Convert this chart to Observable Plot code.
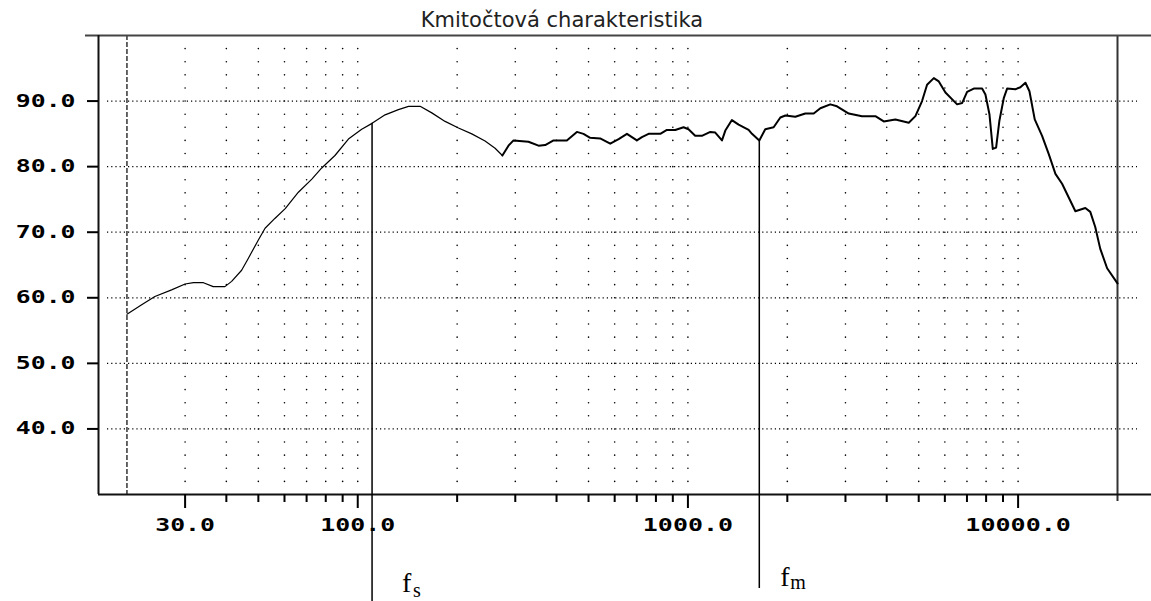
<!DOCTYPE html>
<html>
<head>
<meta charset="utf-8">
<script src="https://cdn.jsdelivr.net/npm/d3@7"></script>
<script src="https://cdn.jsdelivr.net/npm/@observablehq/plot@0.6"></script>
<style>
  html, body { margin: 0; padding: 0; background: #fff; }
</style>
</head>
<body>
<div id="chart"></div>
<script>
// Frequency response of the driver (Hz → dB)
const title = "Kmitočtová charakteristika";

const freq = [
  20, 22.1, 24.3, 27.3, 30, 31.8, 34.1, 36.5, 39.6, 41.5,
  44.5, 46.6, 50, 52.4, 56.1, 60.3, 66.1, 72.6, 77.8, 85.3,
  93.7, 102.8, 110.5, 121, 132.8, 142.5, 154.5, 167.6, 183.9, 201.9,
  221.5, 243, 260.6, 274.2, 286.1, 296.3, 328.9, 352.8, 369.6, 391.7,
  429.8, 461, 482.7, 505.8, 542.2, 581.7, 616.8, 653.6, 700.5, 725.5,
  760, 824.6, 863.6, 915.3, 970, 1004, 1052, 1102, 1169, 1210,
  1268, 1298, 1359, 1424, 1527, 1563, 1645, 1715, 1818, 1905,
  1973, 2115, 2267, 2404, 2518, 2699, 2828, 3070, 3367, 3696,
  3918, 4249, 4665, 4886, 5118, 5300, 5555, 5752, 6024, 6536,
  6767, 7007, 7341, 7780, 7962, 8188, 8382, 8578, 8777, 9054,
  9262, 9813, 10160, 10525, 10823, 11230, 11820, 12385, 12974, 13590,
  14235, 14911, 15982, 16543, 17125, 17727, 18603, 20000
];
const level = [
  57.5, 58.9, 60.2, 61.2, 62.1, 62.3, 62.3, 61.7, 61.7, 62.5,
  64.2, 66.0, 68.8, 70.6, 72.1, 73.6, 76.1, 78.1, 79.8, 81.7,
  84.2, 85.7, 86.6, 87.9, 88.7, 89.2, 89.2, 88.2, 86.9, 85.9,
  85.0, 83.9, 82.8, 81.7, 83.2, 84.0, 83.8, 83.2, 83.3, 84.0,
  84.0, 85.3, 85.0, 84.4, 84.3, 83.5, 84.2, 85.0, 84.0, 84.5,
  85.0, 85.0, 85.6, 85.6, 86.0, 85.7, 84.7, 84.7, 85.3, 85.2,
  84.0, 85.5, 87.1, 86.4, 85.6, 85.0, 84.0, 85.7, 86.0, 87.5,
  87.8, 87.6, 88.1, 88.1, 88.9, 89.5, 89.2, 88.1, 87.7, 87.7,
  86.9, 87.2, 86.7, 87.7, 90.0, 92.5, 93.5, 93.0, 91.3, 89.5,
  89.7, 91.4, 91.9, 91.9, 91.0, 88.0, 82.7, 82.9, 87.0, 90.5,
  91.9, 91.8, 92.1, 92.8, 91.5, 87.2, 84.7, 81.9, 78.9, 77.4,
  75.3, 73.2, 73.7, 73.1, 70.8, 67.5, 64.5, 62.2
];

// Axes and grid
const xMajorTicks = [30, 100, 1000, 10000];
const xMinorTicks = [40, 50, 60, 70, 80, 90, 200, 300, 400, 500, 600, 700, 800, 900,
                     2000, 3000, 4000, 5000, 6000, 7000, 8000, 9000];
const yTicks = [40, 50, 60, 70, 80, 90];
const gridLevels = [32, 34, 36, 38, 40, 42, 44, 46, 48, 50, 52, 54, 56, 58, 60, 62, 64,
                    66, 68, 70, 72, 74, 76, 78, 80, 82, 84, 86, 88, 90, 92, 94, 96, 98];
const xDomain = [16.4, 20000];
const yDomain = [30, 100];
const bandLimits = [20, 20000];

// Resonance frequency f_s and mid frequency f_m
const markerNames = ["s", "m"];
const markerFreq = [110.5, 1645];
const markerLevel = [86.6, 84.0];

const response = freq.map((f, i) => ({f, db: level[i]}));
const markers = markerNames.map((name, i) => ({name, f: markerFreq[i], db: markerLevel[i]}));
const xGridTicks = [...xMajorTicks, ...xMinorTicks].sort((a, b) => a - b);
const gridDots = d3.cross(xGridTicks, gridLevels).map(([f, db]) => ({f, db}));

const serif = "'Liberation Serif', 'DejaVu Serif', serif";
const fmt = d => d.toFixed(1);

const chart = Plot.plot({
  width: 1151,
  height: 601,
  marginTop: 35,
  marginBottom: 107,
  marginLeft: 98,
  marginRight: 34,
  style: {
    fontFamily: "'DejaVu Sans Mono', monospace",
    fontSize: "17px",
    fontWeight: "bold",
    color: "#000",
    background: "#fff",
    overflow: "visible"
  },
  x: {type: "log", domain: xDomain, label: null},
  y: {domain: yDomain, label: null},
  marks: [
    // dotted grid
    Plot.ruleY(yTicks, {stroke: "#000", strokeWidth: 1.2, strokeDasharray: "1.2,3", insetLeft: 9, insetRight: -20}),
    Plot.dot(gridDots, {x: "f", y: "db", r: 0.8, fill: "#000", stroke: null}),
    // band limits
    Plot.ruleX([bandLimits[0]], {stroke: "#000", strokeWidth: 1.2, strokeDasharray: "5,2"}),
    Plot.ruleX([bandLimits[1]], {stroke: "#333", strokeWidth: 2, insetBottom: -7}),
    // frame lines
    Plot.ruleY([yDomain[1]], {stroke: "#444", strokeWidth: 2, insetLeft: -13, insetRight: -34}),
    Plot.ruleY([yDomain[0]], {stroke: "#111", strokeWidth: 2, insetRight: -34}),
    Plot.ruleX([xDomain[0]], {stroke: "#111", strokeWidth: 2}),
    // axes
    Plot.axisY(yTicks, {label: null, tickSize: 11, tickPadding: 12, tickFormat: fmt, strokeWidth: 2}),
    Plot.axisX(xMajorTicks, {label: null, tickSize: 14, tickPadding: 10, tickFormat: fmt, strokeWidth: 2}),
    Plot.axisX(xMinorTicks, {label: null, tickSize: 8, tickFormat: () => "", strokeWidth: 2}),
    // response curve
    Plot.line(response.filter(d => d.f <= 275), {x: "f", y: "db", stroke: "#000", strokeWidth: 1.2}),
    Plot.line(response.filter(d => d.f >= 274), {x: "f", y: "db", stroke: "#000", strokeWidth: 2}),
    // marker lines
    Plot.ruleX(markers.filter(d => d.name === "s"), {x: "f", y1: "db", y2: yDomain[0], stroke: "#000", strokeWidth: 1.5, insetBottom: -107}),
    Plot.ruleX(markers.filter(d => d.name === "m"), {x: "f", y1: "db", y2: yDomain[0], stroke: "#000", strokeWidth: 1.5, insetBottom: -94}),
    // marker labels
    Plot.text(markers.filter(d => d.name === "s"), {x: "f", frameAnchor: "bottom", text: () => "f", textAnchor: "start", lineAnchor: "bottom", dx: 30, dy: 97, fontFamily: serif, fontWeight: "normal", fontSize: 28}),
    Plot.text(markers.filter(d => d.name === "s"), {x: "f", frameAnchor: "bottom", text: "name", textAnchor: "start", lineAnchor: "bottom", dx: 41, dy: 102, fontFamily: serif, fontWeight: "normal", fontSize: 20}),
    Plot.text(markers.filter(d => d.name === "m"), {x: "f", frameAnchor: "bottom", text: () => "f", textAnchor: "start", lineAnchor: "bottom", dx: 21, dy: 91, fontFamily: serif, fontWeight: "normal", fontSize: 28}),
    Plot.text(markers.filter(d => d.name === "m"), {x: "f", frameAnchor: "bottom", text: "name", textAnchor: "start", lineAnchor: "bottom", dx: 31, dy: 94, fontFamily: serif, fontWeight: "normal", fontSize: 20}),
    // title
    Plot.text([title], {frameAnchor: "top", text: d => d, dx: -46, dy: -9, lineAnchor: "bottom", fontFamily: "'DejaVu Sans', sans-serif", fontWeight: "normal", fontSize: 21, fill: "#222"})
  ]
});

// wide bitmap-style tick labels: stretch each glyph cell to a fixed width
d3.select(chart).selectAll('g[aria-label="x-axis tick label"] text, g[aria-label="y-axis tick label"] text')
  .each(function () {
    const s = this.textContent;
    if (s) {
      this.setAttribute("textLength", s.length * 15.3 - 1.5);
      this.setAttribute("lengthAdjust", "spacingAndGlyphs");
    }
  });

document.getElementById("chart").append(chart);
</script>
</body>
</html>
